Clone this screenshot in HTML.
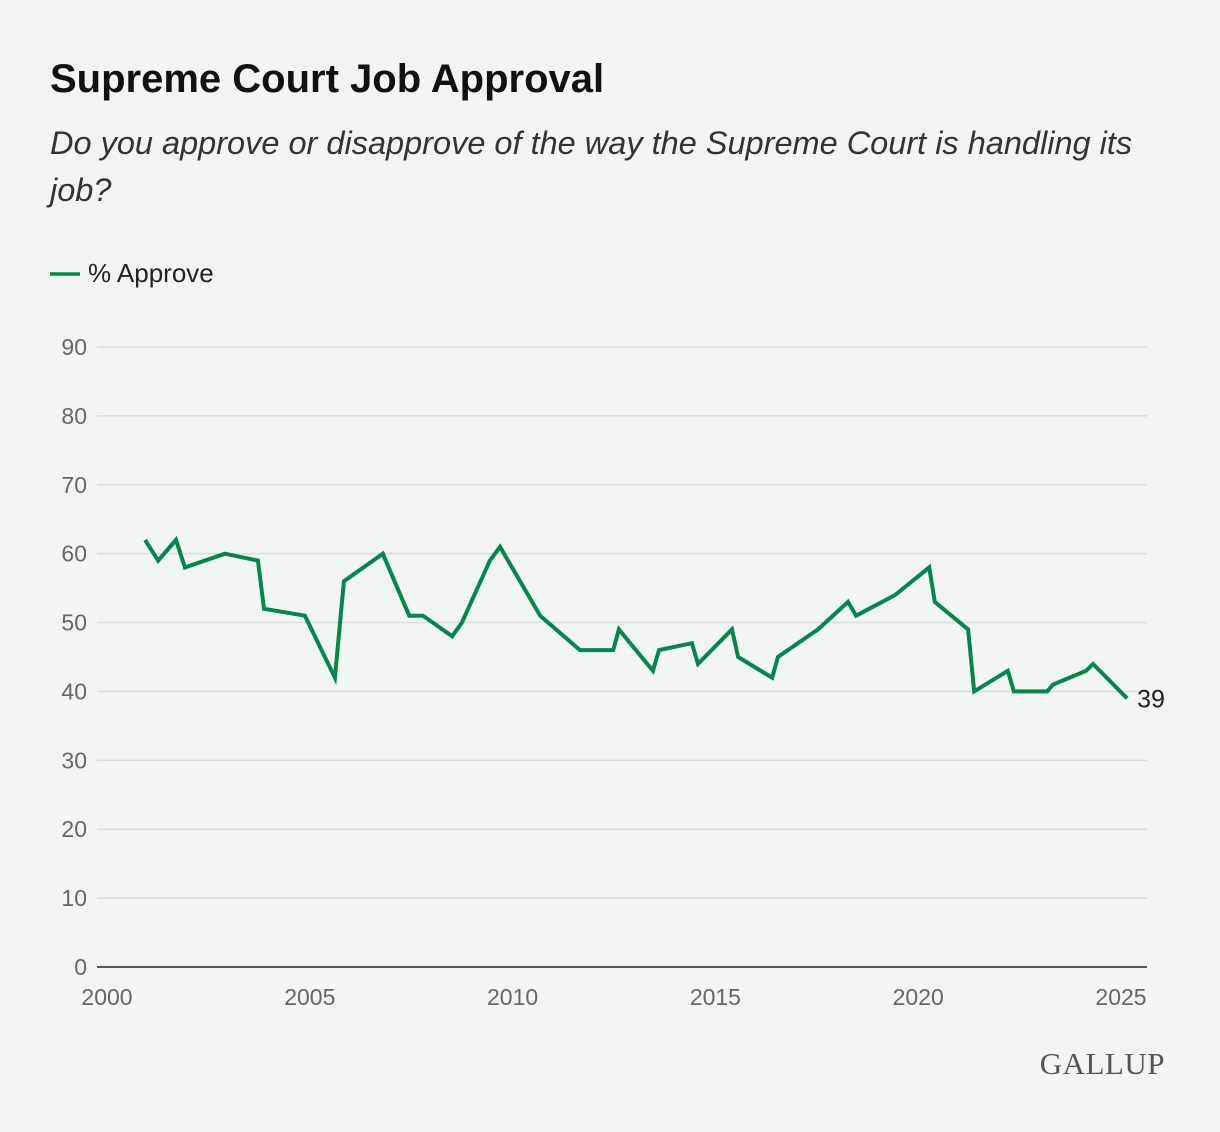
<!DOCTYPE html>
<html><head><meta charset="utf-8"><style>
body{margin:0;background:#f1f7f0;font-family:"Liberation Sans",sans-serif;}
#wrap{position:relative;width:1220px;height:1132px;overflow:hidden;}
h1{position:absolute;left:50px;top:57px;margin:0;font-size:40px;font-weight:bold;color:#111;}
.sub{position:absolute;left:50px;top:120px;width:1110px;font-size:32.5px;font-style:italic;color:#333;line-height:47px;}
</style></head><body>
<div id="wrap">
<h1>Supreme Court Job Approval</h1>
<div class="sub">Do you approve or disapprove of the way the Supreme Court is handling its job?</div>
<svg id="c" width="1220" height="1132" style="position:absolute;left:0;top:0"></svg>
</div>
<script>
const years=[2000.94,2001.26,2001.70,2001.92,2002.91,2003.72,2003.87,2004.88,2005.62,2005.84,2006.80,2007.45,2007.79,2008.51,2008.75,2009.44,2009.69,2010.68,2011.66,2012.48,2012.62,2013.46,2013.61,2014.42,2014.57,2015.41,2015.56,2016.40,2016.54,2017.53,2018.27,2018.47,2019.43,2020.27,2020.41,2021.23,2021.38,2022.21,2022.36,2023.18,2023.32,2024.14,2024.31,2025.15];
const approve=[62,59,62,58,60,59,52,51,42,56,60,51,51,48,50,59,61,51,46,46,49,43,46,47,44,49,45,42,45,49,53,51,54,58,53,49,40,43,40,40,41,43,44,39];
const yTicks=[0,10,20,30,40,50,60,70,80,90];
const xTicks=[2000,2005,2010,2015,2020,2025];
const NS="http://www.w3.org/2000/svg";
const svg=document.getElementById('c');
const x=v=>107+(v-2000)*40.56;
const y=v=>967-v*(620/90);
function mk(t,a,txt){const e=document.createElementNS(NS,t);for(const k in a)e.setAttribute(k,a[k]);if(txt!==undefined)e.textContent=txt;svg.appendChild(e);return e;}
yTicks.forEach(v=>{
 if(v>0){const g=mk('line',{x1:97,x2:1147,y1:y(v),y2:y(v),stroke:'#d9ddd7','stroke-width':1.5});
 
 }
 const t=mk('text',{x:87,y:y(v)+8,'text-anchor':'end','font-size':23,fill:'#666','font-family':'Liberation Sans, sans-serif'},String(v));
 
 
});
const ax=mk('line',{x1:97,x2:1147,y1:967,y2:967,stroke:'#222','stroke-width':1.5});


xTicks.forEach(v=>{
 const t=mk('text',{x:x(v),y:1005,'text-anchor':'middle','font-size':23,fill:'#666','font-family':'Liberation Sans, sans-serif'},String(v));
 
 
});
const pts=years.map((yr,i)=>x(yr).toFixed(1)+','+y(approve[i]).toFixed(1)).join(' ');
const pl=mk('polyline',{points:pts,fill:'none',stroke:'#07854a','stroke-width':4,'stroke-linejoin':'miter'});


const last=approve.length-1;
const lb=mk('text',{x:x(years[last])+10,y:y(approve[last])+9,'font-size':25,fill:'#222','font-family':'Liberation Sans, sans-serif'},String(approve[last]));


const ll=mk('line',{x1:50,x2:80,y1:274,y2:274,stroke:'#07854a','stroke-width':3.5});


const lt=mk('text',{x:88,y:282,'font-size':26,fill:'#222','font-family':'Liberation Sans, sans-serif'},'% Approve');


const lg=mk('text',{x:1165,y:1074,'text-anchor':'end','font-size':31,fill:'#555','font-family':'Liberation Serif, serif','letter-spacing':'0.5'},'GALLUP');


</script>
</body></html>
